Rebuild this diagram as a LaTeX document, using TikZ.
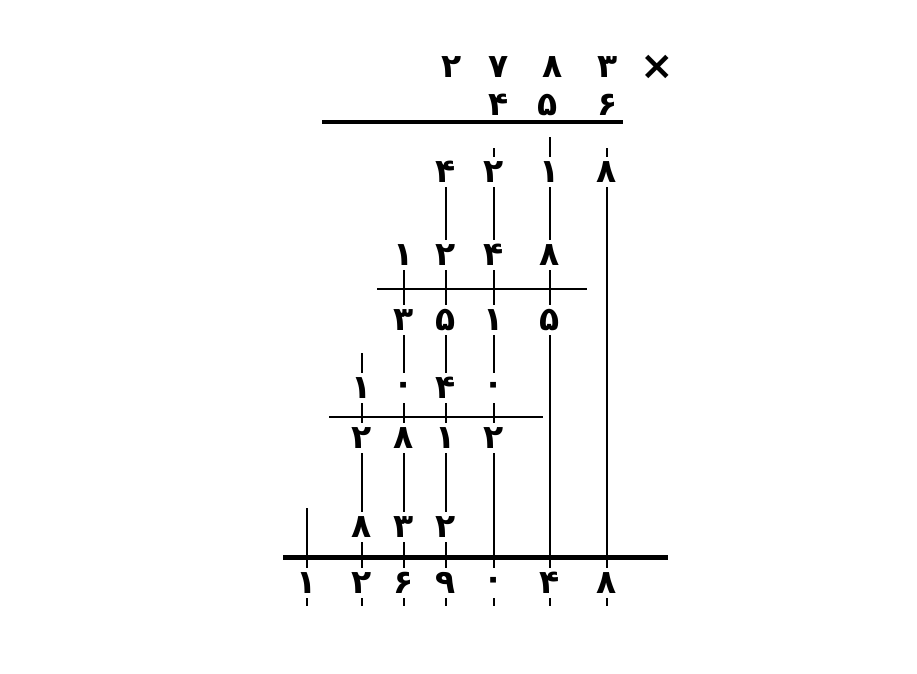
\documentclass[tikz,border=0pt]{standalone}
\usepackage{fontspec}
\usepackage{tikz}
\newfontfamily\arabicfont[Script=Arabic]{DejaVu Sans}

\tikzset{
  dig/.style={font=\arabicfont\bfseries\fontsize{33}{33}\selectfont,
    inner sep=0pt,minimum height=30pt,minimum width=14pt},
  seg/.style={line width=2.8pt},
  rulethin/.style={line width=2.8pt},
  rulethick/.style={line width=5pt}
}

\begin{document}
\begin{tikzpicture}[x=1pt,y=-1pt]
  \fill[white] (0,0) rectangle (917,673);
  \useasboundingbox (0,0) rectangle (917,673);

  % factors
  \node[dig] (t1) at (452,67) {۲};
  \node[dig] (t2) at (499,67) {۷};
  \node[dig] (t3) at (553,67) {۸};
  \node[dig] (t4) at (608,67) {۳};
  \node[dig,font=\arabicfont\bfseries\fontsize{40}{40}\selectfont] (times) at (657,67) {×};
  \node[dig] (m1) at (499,105) {۴};
  \node[dig] (m2) at (548,105) {۵};
  \node[dig] (m3) at (608,105) {۶};
  \draw[rulethin,line width=4pt] (322,122) -- (623,122);

  % partial rows
  \node[dig] (r3c4) at (446,172) {۴};
  \node[dig] (r3c5) at (494,172) {۲};
  \node[dig] (r3c6) at (550,172) {۱};
  \node[dig] (r3c7) at (607,172) {۸};

  \node[dig] (r4c3) at (404,255) {۱};
  \node[dig] (r4c4) at (446,255) {۲};
  \node[dig] (r4c5) at (494,255) {۴};
  \node[dig] (r4c6) at (550,255) {۸};
  \draw[rulethin] (377,289) -- (587,289);

  \node[dig] (r5c3) at (404,320) {۳};
  \node[dig] (r5c4) at (446,320) {۵};
  \node[dig] (r5c5) at (494,320) {۱};
  \node[dig] (r5c6) at (550,320) {۵};

  \node[dig] (r6c2) at (362,388) {۱};
  \node[dig] (r6c3) at (404,388) {۰};
  \node[dig] (r6c4) at (446,388) {۴};
  \node[dig] (r6c5) at (494,388) {۰};
  \draw[rulethin] (329,417) -- (543,417);

  \node[dig] (r7c2) at (362,438) {۲};
  \node[dig] (r7c3) at (404,438) {۸};
  \node[dig] (r7c4) at (446,438) {۱};
  \node[dig] (r7c5) at (494,438) {۲};

  \node[dig] (r8c2) at (362,527) {۸};
  \node[dig] (r8c3) at (404,527) {۳};
  \node[dig] (r8c4) at (446,527) {۲};
  \draw[rulethick] (283,557) -- (668,557);

  % product
  \node[dig] (r9c1) at (307,583) {۱};
  \node[dig] (r9c2) at (362,583) {۲};
  \node[dig] (r9c3) at (404,583) {۶};
  \node[dig] (r9c4) at (446,583) {۹};
  \node[dig] (r9c5) at (494,583) {۰};
  \node[dig] (r9c6) at (550,583) {۴};
  \node[dig] (r9c7) at (607,583) {۸};

  \coordinate (c1top) at (307,508);
  \coordinate (c2top) at (362,353);

  % column strokes
  \foreach \a/\b in {r3c4/r4c4,r4c4/r5c4,r5c4/r6c4,r6c4/r7c4,r7c4/r8c4,r8c4/r9c4,
                     r3c5/r4c5,r4c5/r5c5,r5c5/r6c5,r6c5/r7c5,r7c5/r9c5,
                     r3c6/r4c6,r4c6/r5c6,r5c6/r9c6,
                     r3c7/r9c7,
                     r4c3/r5c3,r5c3/r6c3,r6c3/r7c3,r7c3/r8c3,r8c3/r9c3,
                     c2top/r6c2,r6c2/r7c2,r7c2/r8c2,r8c2/r9c2,
                     c1top/r9c1}
    \draw[seg] (\a) -- (\b);
  \draw[seg] (r3c5.north) -- ++(0,-9);
  \draw[seg] (r3c6.north) -- ++(0,-20);
  \draw[seg] (r3c7.north) -- ++(0,-9);
  \foreach \n in {r9c1,r9c2,r9c3,r9c4,r9c5,r9c6,r9c7}
    \draw[seg] (\n.south) -- ++(0,8);
\end{tikzpicture}
\end{document}
